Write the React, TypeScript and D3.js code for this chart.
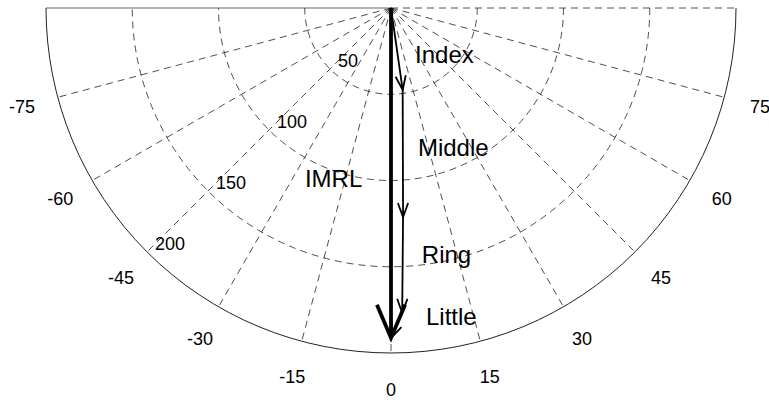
import React from "react";
import * as d3 from "d3";

// ---- data ----
const angleTicks = [-75, -60, -45, -30, -15, 0, 15, 30, 45, 60, 75];
const spokeAngles = [-90, -75, -60, -45, -30, -15, 0, 15, 30, 45, 60, 75, 90];
const radialTicks = [50, 100, 150, 200];
const rMax = 200;

// finger vectors, chained tip-to-tail: cumulative end points (angle deg, magnitude)
const fingerNames = ["Index", "Middle", "Ring", "Little"];
const fingerEndAngles = [8.1, 3.3, 2.1, 0];
const fingerEndRadii = [48.0, 121.4, 176.9, 191.3];

// resultant
const totalName = "IMRL";
const totalAngle = 0;
const totalRadius = 191.3;

// label anchors (polar, data units)
const fingerLabelAngles = [23.6, 10.3, 6.9, 6.3];
const fingerLabelRadii = [34.8, 87.2, 148.9, 184.9];
const totalLabelAngle = -25.7;
const totalLabelRadius = 115.1;

// ---- layout ----
const W = 769;
const H = 403;
const cx = 391;
const cy = 8;
const R = 345;
const FONT = "'Liberation Sans', Arial, Helvetica, sans-serif";

const rScale = d3.scaleLinear().domain([0, rMax]).range([0, R]);
const rad = (deg: number) => (deg * Math.PI) / 180;
const toXY = (deg: number, r: number): [number, number] => [
  cx + rScale(r) * Math.sin(rad(deg)),
  cy + rScale(r) * Math.cos(rad(deg)),
];

function arcPath(r: number) {
  const p = d3.path();
  const rp = rScale(r);
  p.moveTo(cx + rp, cy);
  p.arc(cx, cy, rp, 0, Math.PI, false);
  return p.toString();
}

function arrow(
  from: [number, number],
  to: [number, number],
  headLen: number,
  halfAngleDeg: number
) {
  const dx = to[0] - from[0];
  const dy = to[1] - from[1];
  const a = Math.atan2(dy, dx);
  const h = rad(halfAngleDeg);
  const l1: [number, number] = [
    to[0] - headLen * Math.cos(a - h),
    to[1] - headLen * Math.sin(a - h),
  ];
  const l2: [number, number] = [
    to[0] - headLen * Math.cos(a + h),
    to[1] - headLen * Math.sin(a + h),
  ];
  const line = d3.line();
  return {
    shaft: line([from, to]) as string,
    head: line([l1, to, l2]) as string,
  };
}

export default function App() {
  const labelR = rMax * 1.107;

  const starts: [number, number][] = [];
  const ends: [number, number][] = [];
  fingerNames.forEach((_, i) => {
    const s: [number, number] =
      i === 0 ? [cx, cy] : toXY(fingerEndAngles[i - 1], fingerEndRadii[i - 1]);
    starts.push(s);
    ends.push(toXY(fingerEndAngles[i], fingerEndRadii[i]));
  });
  const totalEnd = toXY(totalAngle, totalRadius);
  const totalArrow = arrow([cx, cy], totalEnd, 36, 23);

  return (
    <svg
      width={W}
      height={H}
      style={{ position: "absolute", left: 0, top: 0, background: "#fff" }}
      fontFamily={FONT}
    >
      {/* rings */}
      {radialTicks.map((t) => (
        <path
          key={"ring" + t}
          d={arcPath(t)}
          fill="none"
          stroke="#222"
          strokeWidth={t === rMax ? 1 : 0.8}
          strokeDasharray={t === rMax ? undefined : "7,5"}
        />
      ))}
      {/* spokes */}
      {spokeAngles.map((a) => {
        const [x, y] = toXY(a, rMax);
        return (
          <line
            key={"sp" + a}
            x1={cx}
            y1={cy}
            x2={x}
            y2={y}
            stroke="#222"
            strokeWidth={a === -90 ? 0.7 : 0.8}
            strokeDasharray={a === -90 ? undefined : "7,5"}
          />
        );
      })}
      {/* angle labels */}
      {angleTicks.map((a) => {
        const [x, y] = toXY(a, labelR);
        return (
          <text
            key={"al" + a}
            x={x}
            y={y}
            textAnchor="middle"
            dominantBaseline="central"
            fontSize={18}
            fill="#000"
          >
            {a}
          </text>
        );
      })}
      {/* radial labels */}
      {radialTicks.map((t) => {
        const [x, y] = toXY(-45, t);
        return (
          <text key={"rl" + t} x={x + 8} y={y - 2} fontSize={18} fill="#000">
            {t}
          </text>
        );
      })}
      {/* finger arrows */}
      {fingerNames.map((n, i) => {
        const ar = arrow(starts[i], ends[i], 15, 20);
        return (
          <g key={"f" + n}>
            <path d={ar.shaft} stroke="#000" strokeWidth={1.8} fill="none" />
            <path d={ar.head} stroke="#000" strokeWidth={1.8} fill="none" strokeLinejoin="miter" />
          </g>
        );
      })}
      {/* total arrow */}
      <path d={totalArrow.shaft} stroke="#000" strokeWidth={3.8} fill="none" />
      <path
        d={totalArrow.head}
        stroke="#000"
        strokeWidth={3.8}
        fill="none"
        strokeLinejoin="miter"
        strokeMiterlimit={10}
      />
      {/* labels */}
      {fingerNames.map((n, i) => {
        const [x, y] = toXY(fingerLabelAngles[i], fingerLabelRadii[i]);
        return (
          <text key={"fl" + n} x={x} y={y} fontSize={24} fill="#000">
            {n}
          </text>
        );
      })}
      {(() => {
        const [x, y] = toXY(totalLabelAngle, totalLabelRadius);
        return (
          <text x={x} y={y} fontSize={24} fill="#000">
            {totalName}
          </text>
        );
      })()}
    </svg>
  );
}
